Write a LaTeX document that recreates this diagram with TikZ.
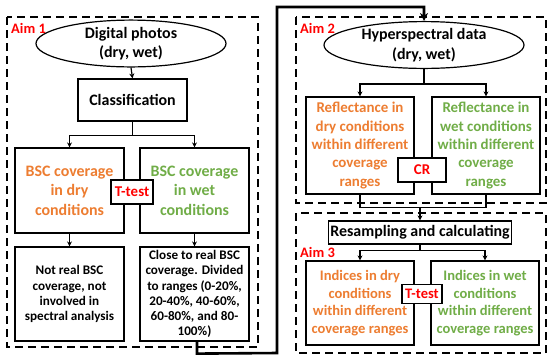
\documentclass[tikz,border=0pt]{standalone}
\usepackage{fontspec}
\setmainfont{Carlito}
\usetikzlibrary{shapes.geometric,arrows.meta,calc}
\definecolor{orng}{HTML}{ED7D31}
\definecolor{grn}{HTML}{70AD47}
\definecolor{rd}{HTML}{FF0000}
\tikzset{
  frame/.style={draw=black, line width=1.3bp, dash pattern=on 8bp off 5bp},
  box/.style={draw=black, line width=1.2bp, fill=white, rectangle, align=center, inner sep=0pt, font=\bfseries},
  ell/.style={draw=black, line width=1.2bp, fill=white, ellipse, align=center, inner sep=0pt, font=\bfseries\fontsize{16}{19.5}\selectfont},
  conn/.style={draw=black, line width=1.2bp},
  arr/.style={draw=black, line width=1.2bp, -{Stealth[length=5bp,width=5bp]}},
  thick arr/.style={draw=black, line width=2.6bp, -{Stealth[length=8bp,width=8bp]}},
  aimlbl/.style={text=rd, font=\bfseries\fontsize{14.5}{17}\selectfont, anchor=west, inner sep=0pt},
  fA/.style={font=\bfseries\fontsize{16}{19.5}\selectfont},
  fB/.style={font=\bfseries\fontsize{15}{18.5}\selectfont},
  fC/.style={font=\bfseries\fontsize{14.6}{17.7}\selectfont},
  fD/.style={font=\bfseries\fontsize{13.2}{15.2}\selectfont},
}
\begin{document}
\begin{tikzpicture}[x=1bp,y=-1bp]
\useasboundingbox (0,0) rectangle (550,362);
\fill[white] (0,0) rectangle (550,362);

% frames
\draw[frame] (7,17) rectangle (258,347);
\draw[frame] (296,17) rectangle (546,203);
\draw[frame] (296,213) rectangle (546,353);

% Aim 1
\node[aimlbl] (lbl1) at (11,28) {Aim 1};
\node[ell, minimum width=190bp, minimum height=41bp] (e1) at (131,43.5) {Digital photos\\(dry, wet)};
\node[box, fA, minimum width=109bp, minimum height=42bp] (cls) at (132.5,100) {Classification};
\node[box, fA, text=orng, minimum width=109bp, minimum height=85bp] (bd) at (69.5,190.5) {BSC coverage\\in dry\\conditions};
\node[box, fA, text=grn, minimum width=109bp, minimum height=85bp] (bw) at (194.5,190.5) {BSC coverage\\in wet\\conditions};
\node[box, fB, text=rd, minimum width=42bp, minimum height=24bp] (tt1) at (132,192) {T-test};
\node[box, fD, minimum width=109bp, minimum height=94bp] (nd) at (69.5,294) {Not real BSC\\coverage, not\\involved in\\spectral analysis};
\node[box, fD, minimum width=109bp, minimum height=94bp] (nw) at (194.5,294) {Close to real BSC\\coverage. Divided\\to ranges (0-20\%,\\20-40\%, 40-60\%,\\60-80\%, and 80-\\100\%)};

\draw[arr] (e1.south) -- (cls.north);
\coordinate (s1) at ($(cls.south)+(0,14)$);
\draw[conn] (cls.south) -- (s1);
\draw[arr] (s1) -| (bd.north);
\draw[arr] (s1) -| (bw.north);
\draw[arr] (bd.south) -- (nd.north);
\draw[arr] (bw.south) -- (nw.north);

% Aim 2
\node[aimlbl] (lbl2) at (300,28) {Aim 2};
\node[ell, minimum width=200bp, minimum height=44bp] (e2) at (424,45) {Hyperspectral data\\(dry, wet)};
\node[box, fB, text=orng, minimum width=108bp, minimum height=97bp] (rfd) at (360,145.5) {Reflectance in\\dry conditions\\within different\\coverage\\ranges};
\node[box, fB, text=grn, minimum width=108bp, minimum height=97bp] (rfw) at (486,145.5) {Reflectance in\\wet conditions\\within different\\coverage\\ranges};
\node[box, fB, text=rd, minimum width=48bp, minimum height=24bp] (cr) at (422,170) {CR};

\coordinate (s2) at ($(e2.south)+(0,15)$);
\draw[conn] (e2.south) -- (s2);
\draw[arr] (s2) -| (rfd.north);
\draw[arr] (s2) -| (rfw.north);

% thick connector
\coordinate (t1) at ($(nw.south)+(2.5,12)$);
\coordinate (t2) at (277,353);
\coordinate (t3) at (277,7);
\coordinate (t4) at (424,7);
\draw[thick arr] ($(nw.south)+(2.5,0)$) -- (t1) -- (t2) -- (t3) -- (t4) -- (e2.north);

% Aim 3
\node[box, fA, minimum width=183bp, minimum height=23bp] (rs) at (420,232.5) {Resampling and calculating};
\node[aimlbl] (lbl3) at (300,252) {Aim 3};
\node[box, fC, text=orng, minimum width=108bp, minimum height=84bp] (idd) at (360,303) {Indices in dry\\conditions\\within different\\coverage ranges};
\node[box, fC, text=grn, minimum width=108bp, minimum height=84bp] (idw) at (485,303) {Indices in wet\\conditions\\within different\\coverage ranges};
\node[box, fC, text=rd, minimum width=40bp, minimum height=19bp] (tt3) at (422,294) {T-test};

\coordinate (m1) at ($(rfd.south)+(0,13)$);
\coordinate (m2) at ($(rfw.south)+(0,13)$);
\coordinate (m3) at (420,207);
\draw[conn] (rfd.south) -- (m1) -- (m2) -- (rfw.south);
\draw[arr] (m3) -- (rs.north);

\coordinate (s3) at ($(rs.south)+(0,6)$);
\draw[conn] (rs.south) -- (s3);
\draw[arr] (s3) -| (idd.north);
\draw[arr] (s3) -| (idw.north);
\end{tikzpicture}
\end{document}
